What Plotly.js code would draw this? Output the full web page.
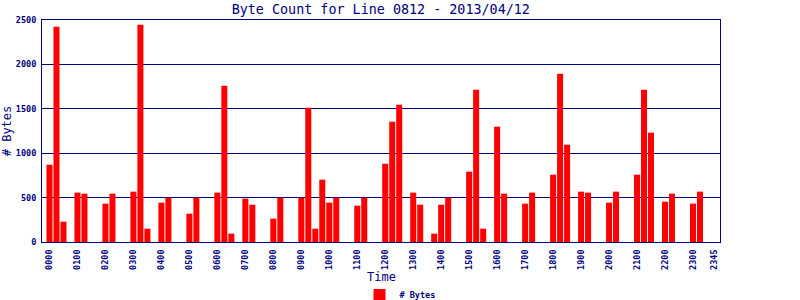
<!DOCTYPE html>
<html>
<head>
<meta charset="utf-8">
<script src="https://cdn.plot.ly/plotly-3.0.1.min.js"></script>
<style>html,body{margin:0;padding:0;background:#fff;}#chart{width:800px;height:300px;}</style>
</head>
<body>
<div id="chart"></div>
<script>
// 15-minute time slots
const timeSlots = [];
for (let h = 0; h < 24; h++) {
  for (let m = 0; m < 60; m += 15) {
    timeSlots.push(String(h).padStart(2, '0') + String(m).padStart(2, '0'));
  }
}
// Byte counts per slot (null = no data)
const byteCounts = [
  870, 2425, 229, null,   556, 544, null, null,   432, 544, null, null,   567, 2447, 150, null,
  443, 499, null, null,   319, 499, null, null,   556, 1760, 94, null,    488, 420, null, null,
  263, 499, null, null,   499, 1513, 150, 702,    443, 499, null, null,   409, 499, null, null,
  882, 1355, 1547, null,  556, 420, null, 94,     420, 499, null, null,   792, 1715, 150, null,
  1299, 544, null, null,  432, 556, null, null,   758, 1896, 1096, null,  567, 556, null, null,
  443, 567, null, null,   758, 1715, 1231, null,  454, 544, null, null,   432, 567, null, null
];
const tickLabels = ['0000','0100','0200','0300','0400','0500','0600','0700','0800','0900','1000','1100',
  '1200','1300','1400','1500','1600','1700','1800','1900','2000','2100','2200','2300','2345'];
const yTicks = [0, 500, 1000, 1500, 2000, 2500];

const navy = '#000080';
const mono = '"DejaVu Sans Mono", "Liberation Mono", monospace';

const trace = {
  type: 'bar',
  x: timeSlots,
  y: byteCounts,
  name: '# Bytes',
  marker: {color: '#ff0000', line: {width: 0}},
  showlegend: true
};

const layout = {
  width: 800, height: 300,
  margin: {l: 42, r: 80, t: 20, b: 58, pad: 0},
  paper_bgcolor: '#ffffff', plot_bgcolor: '#ffffff',
  bargap: 0.14,
  title: {
    text: 'Byte Count for Line 0812 - 2013/04/12',
    font: {family: mono, size: 13.4, color: navy},
    x: 0.476, xanchor: 'center', y: 0.97, yanchor: 'middle', yref: 'container'
  },
  xaxis: {
    type: 'category',
    automargin: false,
    range: [-1.07, 95.86],
    tickmode: 'array',
    tickvals: tickLabels,
    ticktext: tickLabels,
    tickangle: -90,
    ticks: 'outside', ticklen: 3, tickcolor: 'rgba(0,0,0,0)',
    tickfont: {family: mono, size: 8.5, color: navy, weight: 'bold'},
    showgrid: false,
    showline: true, linecolor: navy, linewidth: 1, mirror: true,
    zeroline: false
  },
  yaxis: {
    automargin: false,
    range: [0, 2500],
    tickmode: 'array',
    tickvals: yTicks,
    ticks: 'outside', ticklen: 3, tickcolor: 'rgba(0,0,0,0)',
    tickfont: {family: mono, size: 8.5, color: navy, weight: 'bold'},
    showgrid: true, gridcolor: navy, gridwidth: 1,
    showline: true, linecolor: navy, linewidth: 1, mirror: true,
    zeroline: false,
    title: {text: '# Bytes', font: {family: mono, size: 12, color: navy}, standoff: 4}
  },
  annotations: [{
    text: 'Time', showarrow: false,
    xref: 'paper', x: 0.5, xanchor: 'center',
    yref: 'paper', y: -0.158, yanchor: 'middle',
    font: {family: mono, size: 12, color: navy}
  }],
  legend: {
    orientation: 'h',
    xref: 'container', yref: 'container',
    x: 0.5, xanchor: 'center',
    y: 0.017, yanchor: 'middle',
    font: {family: mono, size: 8.5, color: navy, weight: 'bold'},
    itemwidth: 30
  }
};

Plotly.newPlot('chart', [trace], layout, {displayModeBar: false, staticPlot: true});
</script>
</body>
</html>
